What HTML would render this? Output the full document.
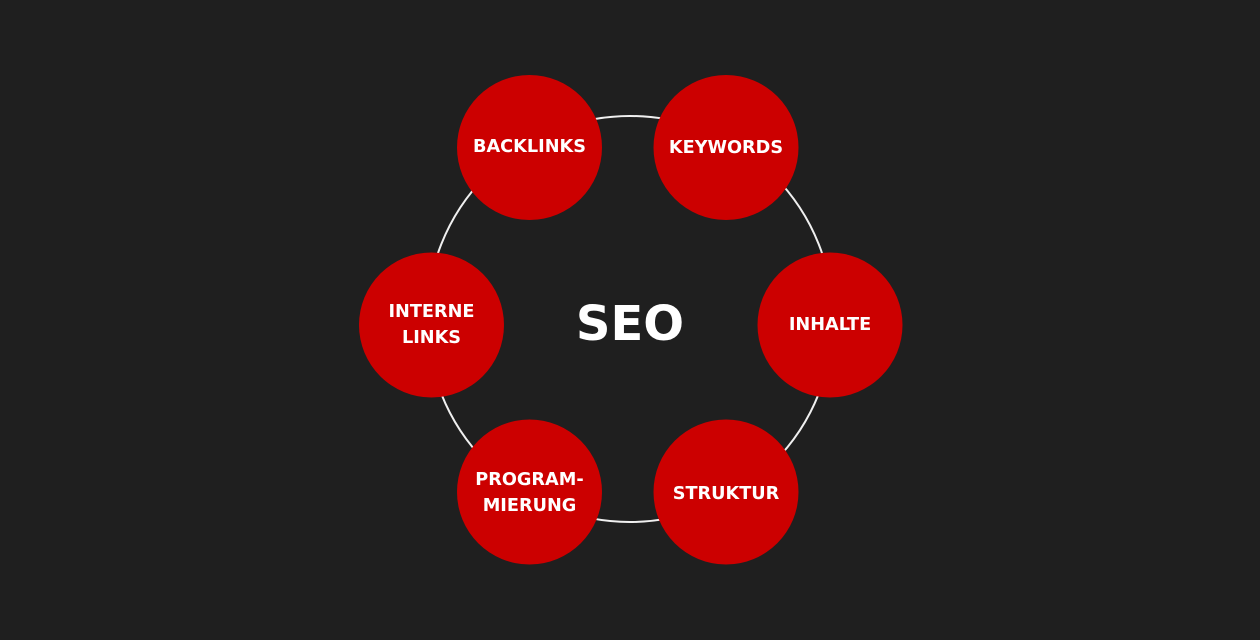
<!DOCTYPE html>
<html><head><meta charset="utf-8"><style>
html,body{margin:0;padding:0;background:#1f1f1f;}
svg{display:block}
text{font-family:"DejaVu Sans","Liberation Sans",sans-serif;font-weight:bold;fill:#fff;text-anchor:middle;}
.l{font-size:17.7px;}
</style></head><body>
<svg width="1260" height="640" viewBox="0 0 1260 640">
<rect width="1260" height="640" fill="#1f1f1f"/>
<circle cx="630" cy="319" r="203" fill="none" stroke="#f0f0f0" stroke-width="2"/>
<g fill="#cc0000">
<circle cx="529.5" cy="147.5" r="72.5"/>
<circle cx="726" cy="147.5" r="72.5"/>
<circle cx="830" cy="325" r="72.5"/>
<circle cx="726" cy="492" r="72.5"/>
<circle cx="529.5" cy="492" r="72.5"/>
<circle cx="431.5" cy="325" r="72.5"/>
</g>
<text class="l" x="529.5" y="152">BACKLINKS</text>
<text class="l" x="726" y="153">KEYWORDS</text>
<text class="l" x="830" y="330">INHALTE</text>
<text class="l" x="726" y="499">STRUKTUR</text>
<text class="l" x="529.5" y="485">PROGRAM-</text>
<text class="l" x="529.5" y="511">MIERUNG</text>
<text class="l" x="431.5" y="317">INTERNE</text>
<text class="l" x="431.5" y="343">LINKS</text>
<text x="630" y="340" style="font-size:48px;font-weight:900;">SEO</text>
</svg>
</body></html>
